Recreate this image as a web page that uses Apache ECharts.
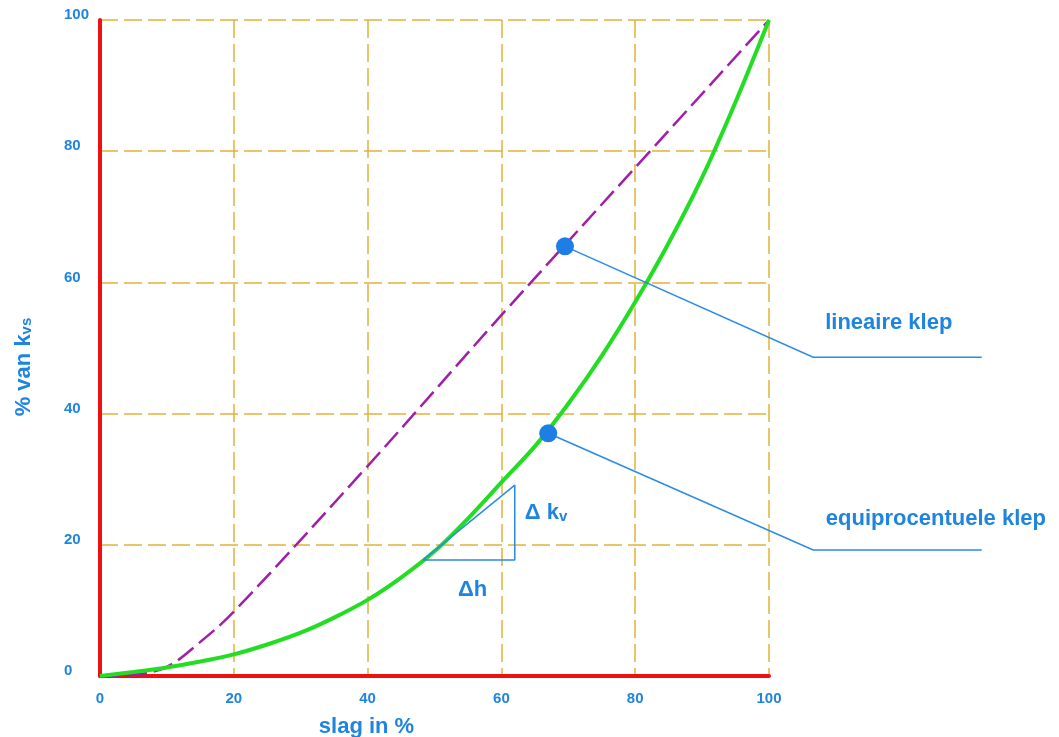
<!DOCTYPE html>
<html>
<head>
<meta charset="utf-8">
<script src="https://cdn.jsdelivr.net/npm/echarts@6/dist/echarts.min.js"></script>
<style>
html,body{margin:0;padding:0;background:#fff;}
#klep{width:1059px;height:737px;}
</style>
</head>
<body>
<div id="klep"></div>
<script>
// slag (x) en % van kvs (y)
var xTicks = [0, 20, 40, 60, 80, 100]
var yTicks = [0, 20, 40, 60, 80, 100]

// lineaire klep (gestreept)
var lineairX = [0, 5, 10, 15, 20, 40, 60, 80, 100]
var lineairY = [0, 0.2, 1.4, 5.2, 9.8, 32, 55, 77.5, 100]

// equiprocentuele klep
var equiX = [0, 5, 10, 15, 20, 25, 30, 35, 40, 45, 50, 55, 60, 65, 70, 75, 80, 85, 90, 95, 100]
var equiY = [0, 0.6, 1.3, 2.2, 3.3, 4.8, 6.6, 8.9, 11.6, 15, 19, 24, 29.5, 35, 41.5, 48.8, 57, 66, 76, 87.5, 100]

// punten op de curves
var puntLineair = [69.5, 65.5]
var puntEqui = [67, 37]

// aanwijslijnen naar de tekst
var lijnLineair = [[69.5, 65.5], [106.6, 48.6], [131.8, 48.6]]
var lijnEqui = [[67, 37], [106.6, 19.2], [131.8, 19.2]]

// driehoek delta h / delta kv
var driehoek = [[48.3, 17.7], [62, 29.1], [62, 17.7], [48.3, 17.7]]

// teksten
var teksten = [
    {value: [108.4, 53.8], name: 'lineaire klep'},
    {value: [108.5, 23.9], name: 'equiprocentuele klep'},
    {value: [63.5, 24.8], name: '{t|Δ k}{s|v}'},
    {value: [53.5, 13.1], name: 'Δh'}
]

function pairs(xs, ys){
    return xs.map(function(x, i){ return [x, ys[i]] })
}

function drawKlep(){
    var blauw = '#1f84e0'
    var goud = '#e2b23a'
    var chart = echarts.init(document.querySelector('#klep'))
    var option = {
    animation: false,
    grid: {
        left: 100,
        right: 290,
        top: 20,
        bottom: 61,
        outerBoundsMode: 'none'
    },
    xAxis: {
        type: 'value',
        min: 0,
        max: 100,
        interval: 20,
        name: 'slag in %',
        nameLocation: 'middle',
        nameGap: 40,
        nameTextStyle: {
            color: blauw,
            fontSize: 22,
            fontWeight: 'bold',
            fontFamily: 'Liberation Sans',
            padding: [0, 136, 0, 0]
        },
        axisLine: {lineStyle: {color: '#ee1111', width: 4}},
        axisTick: {show: false},
        axisLabel: {
            color: blauw,
            fontSize: 15,
            fontWeight: 'bold',
            fontFamily: 'Liberation Sans',
            margin: 15,
            formatter: function(v){ return xTicks.indexOf(v) >= 0 ? v : '' }
        },
        splitLine: {
            show: true,
            lineStyle: {color: goud, width: 1.5, type: [18, 6]}
        }
    },
    yAxis: {
        type: 'value',
        min: 0,
        max: 100,
        interval: 20,
        name: '{t|% van k}{s|vs}',
        nameLocation: 'middle',
        nameRotate: 90,
        nameGap: 65,
        nameTextStyle: {
            color: blauw,
            fontFamily: 'Liberation Sans',
            padding: [0, 38, 0, 0],
            rich: {
                t: {color: blauw, fontSize: 22, fontWeight: 'bold', fontFamily: 'Liberation Sans'},
                s: {color: blauw, fontSize: 15, fontWeight: 'bold', fontFamily: 'Liberation Sans', padding: [6, 0, 0, 0]}
            }
        },
        axisLine: {lineStyle: {color: '#ee1111', width: 4}},
        axisTick: {show: false},
        axisLabel: {
            color: blauw,
            fontSize: 15,
            fontWeight: 'bold',
            fontFamily: 'Liberation Sans',
            align: 'left',
            verticalAlign: 'bottom',
            lineHeight: 10,
            margin: 36,
            formatter: function(v){ return yTicks.indexOf(v) >= 0 ? v : '' }
        },
        splitLine: {
            show: true,
            lineStyle: {color: goud, width: 1.5, type: [18, 6]}
        }
    },
    series: [
        {
            name: 'lineaire klep',
            type: 'line',
            smooth: 0.35,
            symbol: 'none',
            data: pairs(lineairX, lineairY),
            lineStyle: {color: '#a01fa8', width: 2.5, type: [20, 7]},
            z: 3
        },
        {
            name: 'equiprocentuele klep',
            type: 'line',
            smooth: 0.3,
            symbol: 'none',
            data: pairs(equiX, equiY),
            lineStyle: {color: '#22dd22', width: 4},
            z: 4
        },
        {
            name: 'driehoek',
            type: 'line',
            symbol: 'none',
            data: driehoek,
            lineStyle: {color: '#2a8ae6', width: 1.5},
            z: 5
        },
        {
            name: 'punten',
            type: 'scatter',
            symbolSize: 18,
            data: [puntLineair, puntEqui],
            itemStyle: {color: '#1d7fe6', opacity: 1},
            z: 6
        },
        {
            name: 'teksten',
            type: 'scatter',
            symbolSize: 0,
            clip: false,
            data: teksten,
            itemStyle: {opacity: 1},
            label: {
                show: true,
                position: 'right',
                distance: 0,
                formatter: '{b}',
                color: blauw,
                fontSize: 22,
                fontWeight: 'bold',
                fontFamily: 'Liberation Sans',
                rich: {
                    t: {color: blauw, fontSize: 22, fontWeight: 'bold', fontFamily: 'Liberation Sans'},
                    s: {color: blauw, fontSize: 15, fontWeight: 'bold', fontFamily: 'Liberation Sans', padding: [8, 0, 0, 0]}
                }
            },
            z: 7
        }
    ]
};

    chart.setOption(option)

    // aanwijslijnen buiten het grid: via de assen naar pixels omrekenen
    function toPx(pts){
        return pts.map(function(p){ return chart.convertToPixel({gridIndex: 0}, p) })
    }
    chart.setOption({
        graphic: [lijnLineair, lijnEqui].map(function(pts){
            return {
                type: 'polyline',
                shape: {points: toPx(pts)},
                style: {stroke: '#2a8ae6', lineWidth: 1.5, fill: null},
                z: 5
            }
        })
    })
}

drawKlep()
</script>
</body>
</html>
